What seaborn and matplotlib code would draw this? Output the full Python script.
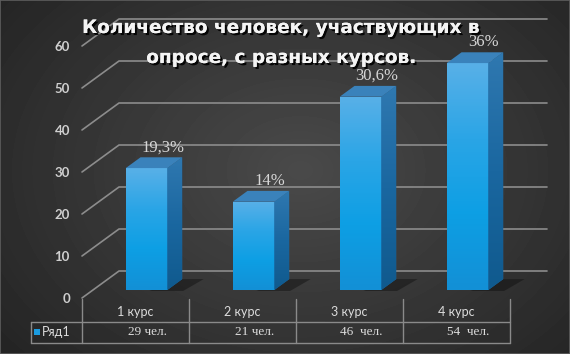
import numpy as np
import pandas as pd
import seaborn as sns
import matplotlib
matplotlib.use("Agg")
import matplotlib.pyplot as plt
import matplotlib.transforms as mtransforms
import matplotlib.patheffects as pe
from matplotlib.patches import Polygon, Rectangle
from matplotlib.lines import Line2D
from matplotlib.colors import LinearSegmentedColormap

# data
courses = ["1 курс", "2 курс", "3 курс", "4 курс"]
counts = [29, 21, 46, 54]
shares = ["19,3%", "14%", "30,6%", "36%"]
people = ["29 чел.", "21 чел.", "46  чел.", "54  чел."]
series_name = "Ряд1"
title_lines = ["Количество человек, участвующих в", "опросе, с разных курсов."]
y_ticks = [0, 10, 20, 30, 40, 50, 60]

sns.set_theme(style="dark")
plt.rcParams["font.family"] = ["DejaVu Sans"]

W, H = 570, 354
fig = plt.figure(figsize=(W / 100, H / 100), dpi=100)
ident = mtransforms.IdentityTransform()

# dark radial background
bg = fig.add_axes([0, 0, 1, 1], zorder=0)
yy, xx = np.mgrid[0:H, 0:W]
r = np.sqrt(((xx - 300) / 340.0) ** 2 + ((yy - 170) / 250.0) ** 2)
shade = 0.29 - 0.13 * np.clip(r, 0, 1.2)
bg.imshow(shade, cmap="gray", vmin=0, vmax=1, extent=[0, W, H, 0], aspect="auto")
bg.set_xlim(0, W)
bg.set_ylim(H, 0)
bg.set_axis_off()
fig.add_artist(Rectangle((0, 0), 1, 1, transform=fig.transFigure, fill=False,
                         edgecolor="#5e5e5e", lw=1.2))

# front plane of the 3d chart
x0, x1, y0, y1 = 82, 510, 298, 46
ax = fig.add_axes([x0 / W, (H - y0) / H, (x1 - x0) / W, (y0 - y1) / H], zorder=1)
ax.set_facecolor("none")

df = pd.DataFrame({"course": courses, "count": counts})
sns.barplot(data=df, x="course", y="count", color="#1a9be0", width=0.39, ax=ax, zorder=3)
ax.set_xlim(-0.5, 3.5)
ax.set_ylim(0, 60)
for s in ax.spines.values():
    s.set_visible(False)
ax.set_xlabel("")
ax.set_ylabel("")

depth_x, depth_y = 37, 27
front, deep = 0.3, 0.4
shift = mtransforms.ScaledTranslation(front * depth_x / 100, front * depth_y / 100, fig.dpi_scale_trans)
bar_tr = ax.transData + shift
cmap_front = LinearSegmentedColormap.from_list("front", ["#1390d6", "#0d9fe4", "#2aa5e6", "#58b0e8"])
cmap_side = LinearSegmentedColormap.from_list("side", ["#105a8e", "#1a67a0", "#2f78b0"])
grad = np.linspace(0, 1, 100).reshape(-1, 1)

bars = list(ax.patches)
for p in bars:
    p.set_transform(bar_tr)
    p.set_edgecolor("none")
    bx, bw, bh = p.get_x(), p.get_width(), p.get_height()
    im = ax.imshow(grad, cmap=cmap_front, extent=[bx, bx + bw, 0, bh], origin="lower",
                   aspect="auto", zorder=3.1)
    im.set_transform(bar_tr)
    im.set_clip_path(p)

ax.set_xlim(-0.5, 3.5)
ax.set_ylim(0, 60)
ax.set_aspect("auto")


def disp(x, y, frac):
    px, py = ax.transData.transform((x, y))
    return px + frac * depth_x, py + frac * depth_y


# gridlines: front edge, diagonal to the back wall, then along the back wall
for v in y_ticks:
    fx, fy = disp(-0.5, v, 0)
    bxp, byp = disp(-0.5, v, 1)
    rx, _ = disp(3.5, v, 1)
    ax.add_line(Line2D([fx, bxp, rx], [fy, byp, byp], transform=ident, color="#8c8c8c",
                       lw=1.2, clip_on=False, zorder=1))

# side, top faces and shadows
faces = []
for p in bars:
    bx, bw, bh = p.get_x(), p.get_width(), p.get_height()
    xr = bx + bw
    shadow = [disp(bx + bw * 0.6, 0, front - 0.04), disp(xr + 0.16, 0, front - 0.04),
              disp(xr + 0.2, 0, front + deep), disp(xr, 0, front + deep)]
    ax.add_patch(Polygon(shadow, closed=True, transform=ident, facecolor="#0e0e0e",
                         alpha=0.45, edgecolor="none", zorder=2, clip_on=False))
    side = [disp(xr, 0, front), disp(xr, bh, front), disp(xr, bh, front + deep), disp(xr, 0, front + deep)]
    top = [disp(bx, bh, front), disp(xr, bh, front), disp(xr, bh, front + deep), disp(bx, bh, front + deep)]
    faces.append((side, top))

for side, top in faces:
    sp = Polygon(side, closed=True, transform=ident, facecolor="#1d67a0",
                 edgecolor="none", zorder=3.2, clip_on=False)
    ax.add_patch(sp)
    xs = [q[0] for q in side]
    ys = [q[1] for q in side]
    im = ax.imshow(grad, cmap=cmap_side, extent=[min(xs), max(xs), min(ys), max(ys)],
                   origin="lower", aspect="auto", zorder=3.25, transform=ident)
    im.set_clip_path(sp)
    ax.add_patch(Polygon(top, closed=True, transform=ident, facecolor="#3a82bb",
                         edgecolor="none", zorder=3.3, clip_on=False))

ax.set_xlim(-0.5, 3.5)
ax.set_ylim(0, 60)
ax.set_aspect("auto")

# percentage labels
for i, (v, s) in enumerate(zip(counts, shares)):
    ax.annotate(s, xy=(i, v), xytext=(27 * 0.72, 29 * 0.72), textcoords="offset points",
                ha="center", va="center", fontfamily="Liberation Serif", fontsize=12,
                color="#d6d6d6", zorder=5)

# axis ticks
ax.set_yticks(y_ticks)
ax.tick_params(axis="y", length=0, pad=8.6, labelcolor="#cfcfcf", labelsize=9.5)
ax.tick_params(axis="x", length=0, pad=6.0, labelcolor="#dcdcdc", labelsize=9)
for lbl in ax.get_yticklabels():
    lbl.set_fontfamily("Lato")
    lbl.set_fontweight("bold")
for lbl in ax.get_xticklabels():
    lbl.set_fontfamily("Lato")

# data table below the chart
line_c = "#8a8a8a"
blend = mtransforms.blended_transform_factory(ax.transData, ident)
for xb in [-0.5, 0.5, 1.5, 2.5, 3.5]:
    ax.add_line(Line2D([xb, xb], [H - 299, H - 343], transform=blend, color=line_c, lw=1, clip_on=False))
for yp in [322, 343]:
    ax.add_line(Line2D([31, disp(3.5, 0, 0)[0]], [H - yp, H - yp], transform=ident, color=line_c,
                       lw=1, clip_on=False))
ax.add_line(Line2D([31, 31], [H - 322, H - 343], transform=ident, color=line_c, lw=1, clip_on=False))

for i, s in enumerate(people):
    ax.text(i + 12 / 107, H - 332, s, transform=blend, ha="center", va="center",
            fontfamily="Liberation Serif", fontsize=9.5, color="#dcdcdc")

fig.add_artist(Rectangle((34, H - 335), 6, 6, transform=ident, facecolor="#1a9be0", edgecolor="none"))
fig.text(42, H - 332, series_name, transform=ident, ha="left", va="center",
         fontfamily="Lato", fontsize=9, color="#dcdcdc")

# title with shadow
shadow_fx = [pe.withSimplePatchShadow(offset=(1.5, -1.5), shadow_rgbFace="black", alpha=0.9), pe.Normal()]
for line, base in zip(title_lines, [33, 63]):
    fig.text(281, H - base, line, transform=ident, ha="center", va="baseline",
             fontsize=13.3, fontweight="bold", color="#f4f4f4", path_effects=shadow_fx, zorder=6)

fig.savefig("out.png", dpi=100)
